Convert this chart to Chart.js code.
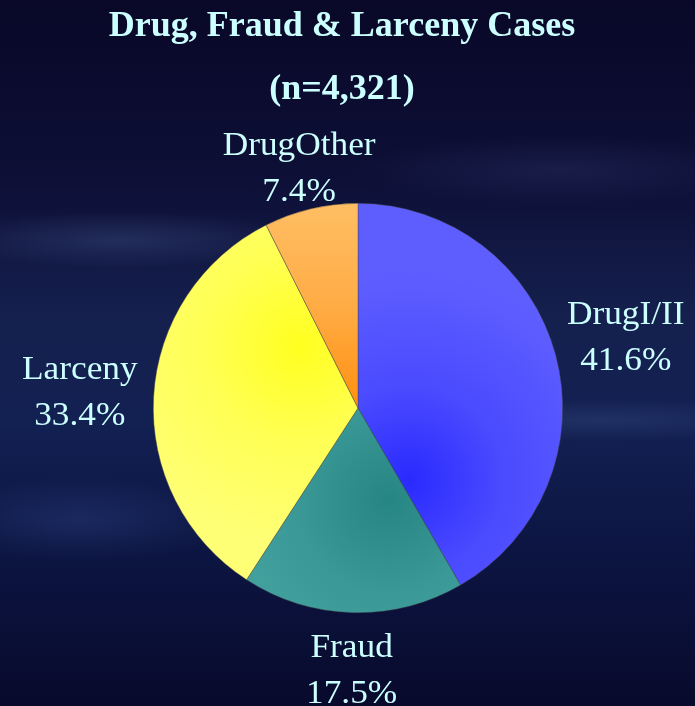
<!DOCTYPE html>
<html>
<head>
<meta charset="utf-8">
<script src="https://cdn.jsdelivr.net/npm/chart.js@4.4.1/dist/chart.umd.min.js"></script>
<style>
  html, body { margin: 0; padding: 0; width: 695px; height: 706px; overflow: hidden; }
  body {
    background:
      radial-gradient(ellipse 260px 40px at 120px 240px, rgba(120,150,210,0.18), rgba(0,0,0,0) 70%),
      radial-gradient(ellipse 300px 30px at 600px 420px, rgba(120,150,210,0.14), rgba(0,0,0,0) 70%),
      radial-gradient(ellipse 220px 60px at 80px 520px, rgba(60,90,170,0.25), rgba(0,0,0,0) 70%),
      radial-gradient(ellipse 300px 50px at 560px 170px, rgba(90,110,180,0.15), rgba(0,0,0,0) 70%),
      linear-gradient(180deg, #090828 0%, #0d0f36 25%, #15204e 45%, #122052 60%, #0c1440 80%, #080a2c 100%);
  }
  #wrap { position: absolute; left: 0; top: 0; width: 695px; height: 706px; }
</style>
</head>
<body>
<div id="wrap"><canvas id="c" width="695" height="706"></canvas></div>
<script>
const titleLines = ['Drug, Fraud & Larceny Cases', '(n=4,321)'];
const categories = ['DrugI/II', 'Fraud', 'Larceny', 'DrugOther'];
const percentages = [41.6, 17.5, 33.4, 7.4];

const textColor = '#ccffff';
const flatColors = ['#5050ff', '#3a9a98', '#ffff55', '#ffac45'];

function sliceFill(ctx) {
  const chart = ctx.chart;
  const a = chart.chartArea;
  if (!a || !isFinite(a.left) || a.right <= a.left) return flatColors[ctx.dataIndex];
  const cx = (a.left + a.right) / 2, cy = (a.top + a.bottom) / 2;
  const r = Math.min(a.right - a.left, a.bottom - a.top) / 2;
  if (!isFinite(cx) || !isFinite(cy) || !(r > 0)) return flatColors[ctx.dataIndex];
  const c = chart.ctx;
  let g;
  switch (ctx.dataIndex) {
    case 0:
      g = c.createRadialGradient(cx + 0.25 * r, cy + 0.35 * r, 0, cx + 0.25 * r, cy + 0.35 * r, r);
      g.addColorStop(0, '#2a2aff');
      g.addColorStop(0.45, '#4a4aff');
      g.addColorStop(1, '#5e5eff');
      return g;
    case 1:
      g = c.createRadialGradient(cx + 0.15 * r, cy + 0.45 * r, 0, cx + 0.15 * r, cy + 0.45 * r, r * 0.9);
      g.addColorStop(0, '#268684');
      g.addColorStop(0.5, '#3a9896');
      g.addColorStop(1, '#45a3a0');
      return g;
    case 2:
      g = c.createRadialGradient(cx - 0.28 * r, cy - 0.3 * r, 0, cx - 0.28 * r, cy - 0.3 * r, r * 0.95);
      g.addColorStop(0, '#ffff20');
      g.addColorStop(0.5, '#ffff55');
      g.addColorStop(1, '#ffff75');
      return g;
    default:
      g = c.createLinearGradient(0, cy - r, 0, cy);
      g.addColorStop(0, '#ffbe64');
      g.addColorStop(0.5, '#ffac45');
      g.addColorStop(1, '#ff9010');
      return g;
  }
}

const titleShift = {
  id: 'titleShift',
  afterLayout(chart) {
    const t = chart.titleBlock;
    if (t) { t.left -= 16; t.right -= 16; }
  }
};

const labelPlugin = {
  id: 'outerLabels',
  afterDatasetsDraw(chart) {
    const meta = chart.getDatasetMeta(0);
    const c = chart.ctx;
    c.save();
    c.fillStyle = textColor;
    c.font = '33px "Liberation Serif", "Times New Roman", serif';
    c.textAlign = 'center';
    c.textBaseline = 'middle';
    meta.data.forEach((arc, i) => {
      const p = arc.getProps(['x', 'y', 'startAngle', 'endAngle', 'outerRadius'], true);
      const mid = (p.startAngle + p.endAngle) / 2;
      const cs = Math.cos(mid), sn = Math.sin(mid);
      const off = Math.sqrt((74 * cs) ** 2 + (49 * sn) ** 2);
      const px = p.x + (p.outerRadius + off) * cs;
      const py = p.y + (p.outerRadius + off) * sn + 10 * Math.abs(sn);
      const lines = [categories[i], percentages[i].toFixed(1) + '%'];
      c.save();
      c.translate(px, py);
      c.scale(1.07, 1);
      c.fillText(lines[0], 0, -23);
      c.fillText(lines[1], 0, 23);
      c.restore();
    });
    c.restore();
  }
};

new Chart(document.getElementById('c'), {
  type: 'pie',
  data: {
    labels: categories,
    datasets: [{
      data: percentages,
      backgroundColor: sliceFill,
      borderColor: 'rgba(70,70,70,0.7)',
      borderWidth: 0.6
    }]
  },
  options: {
    responsive: false,
    animation: false,
    layout: { padding: { top: -5, left: 21, right: 0, bottom: 93 } },
    plugins: {
      legend: { display: false },
      tooltip: { enabled: false },
      title: {
        display: true,
        text: titleLines,
        color: textColor,
        font: { family: '"Liberation Serif", "Times New Roman", serif', size: 36, weight: 'bold', lineHeight: 1.75 },
        padding: { top: 0, bottom: 82 }
      }
    }
  },
  plugins: [titleShift, labelPlugin]
});
</script>
</body>
</html>
